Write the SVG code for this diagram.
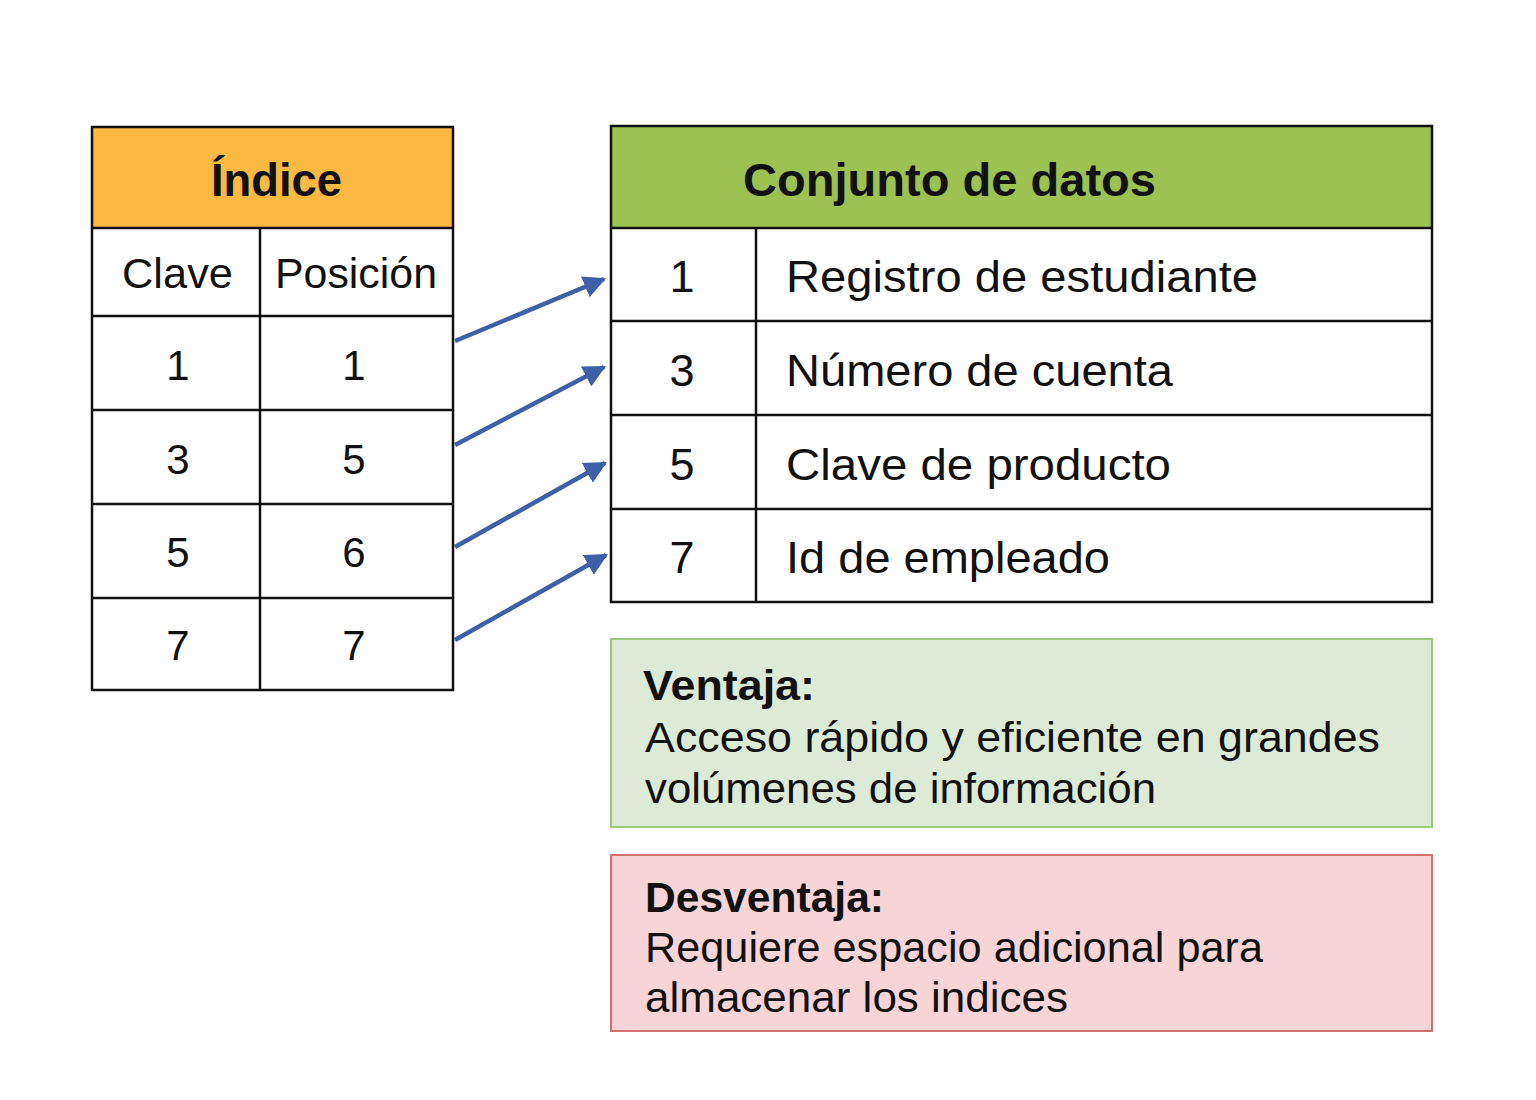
<svg xmlns="http://www.w3.org/2000/svg" width="1536" height="1100" viewBox="0 0 1536 1100">
<defs>
<style>
text{font-family:"Liberation Sans",Arial,sans-serif;fill:#111;}
.c{text-anchor:middle;}
.h{font-size:47px;font-weight:bold;}
.cell{font-size:42px;}
.dt{font-size:45px;}
.bt{font-size:42px;font-weight:bold;}
.nt{font-size:43px;}
.ln{stroke:#111;stroke-width:2.5;fill:none;}
.arr{stroke:#3F5FA8;stroke-width:4.5;fill:none;marker-end:url(#ah);}
</style>
<marker id="ah" viewBox="0 0 10 10" refX="9" refY="5" markerWidth="5" markerHeight="5" markerUnits="strokeWidth" orient="auto">
<path d="M0,0 L10,5 L0,10 Z" fill="#3F5FA8"/>
</marker>
</defs>
<rect width="1536" height="1100" fill="#fff"/>
<g id="indice">
<rect x="92" y="127" width="361" height="101" fill="#FBB941"/>
<rect x="92" y="127" width="361" height="563" class="ln"/>
<path class="ln" d="M92,228H453M92,316H453M92,410H453M92,504H453M92,598H453M260,228V690"/>
<text class="h" x="211" y="196" textLength="131" lengthAdjust="spacingAndGlyphs">Índice</text>
<text class="cell" x="122" y="288" textLength="111" lengthAdjust="spacingAndGlyphs">Clave</text>
<text class="cell" x="275" y="288" textLength="162" lengthAdjust="spacingAndGlyphs">Posición</text>
<text class="cell c" x="178" y="380">1</text><text class="cell c" x="354" y="380">1</text>
<text class="cell c" x="178" y="474">3</text><text class="cell c" x="354" y="474">5</text>
<text class="cell c" x="178" y="567">5</text><text class="cell c" x="354" y="567">6</text>
<text class="cell c" x="178" y="660">7</text><text class="cell c" x="354" y="660">7</text>
</g>
<g id="datos">
<rect x="611" y="126" width="821" height="102" fill="#9DC251"/>
<rect x="611" y="126" width="821" height="476" class="ln"/>
<path class="ln" d="M611,228H1432M611,321H1432M611,415H1432M611,509H1432M756,228V602"/>
<text class="h" x="743" y="196" textLength="413" lengthAdjust="spacingAndGlyphs">Conjunto de datos</text>
<text class="dt c" x="682" y="292">1</text><text class="dt" x="786" y="292" textLength="472" lengthAdjust="spacingAndGlyphs">Registro de estudiante</text>
<text class="dt c" x="682" y="386">3</text><text class="dt" x="786" y="386" textLength="387" lengthAdjust="spacingAndGlyphs">Número de cuenta</text>
<text class="dt c" x="682" y="480">5</text><text class="dt" x="786" y="480" textLength="385" lengthAdjust="spacingAndGlyphs">Clave de producto</text>
<text class="dt c" x="682" y="573">7</text><text class="dt" x="786" y="573" textLength="324" lengthAdjust="spacingAndGlyphs">Id de empleado</text>
</g>
<g id="connectors">
<line class="arr" x1="455" y1="341" x2="604" y2="279"/>
<line class="arr" x1="455" y1="445" x2="604" y2="367"/>
<line class="arr" x1="455" y1="547" x2="605" y2="463"/>
<line class="arr" x1="455" y1="640" x2="606" y2="555"/>
</g>
<g id="ventaja">
<rect x="611" y="639" width="821" height="188" fill="#DDEAD5" stroke="#9DC77A" stroke-width="2"/>
<text class="bt" x="643" y="700" textLength="172" lengthAdjust="spacingAndGlyphs">Ventaja:</text>
<text class="nt" x="645" y="752" textLength="735" lengthAdjust="spacingAndGlyphs">Acceso rápido y eficiente en grandes</text>
<text class="nt" x="645" y="803" textLength="511" lengthAdjust="spacingAndGlyphs">volúmenes de información</text>
</g>
<g id="desventaja">
<rect x="611" y="855" width="821" height="176" fill="#F7D4D5" stroke="#D07070" stroke-width="2"/>
<text class="bt" x="645" y="912" textLength="239" lengthAdjust="spacingAndGlyphs">Desventaja:</text>
<text class="nt" x="645" y="962" textLength="618" lengthAdjust="spacingAndGlyphs">Requiere espacio adicional para</text>
<text class="nt" x="645" y="1012" textLength="423" lengthAdjust="spacingAndGlyphs">almacenar los indices</text>
</g>
</svg>
